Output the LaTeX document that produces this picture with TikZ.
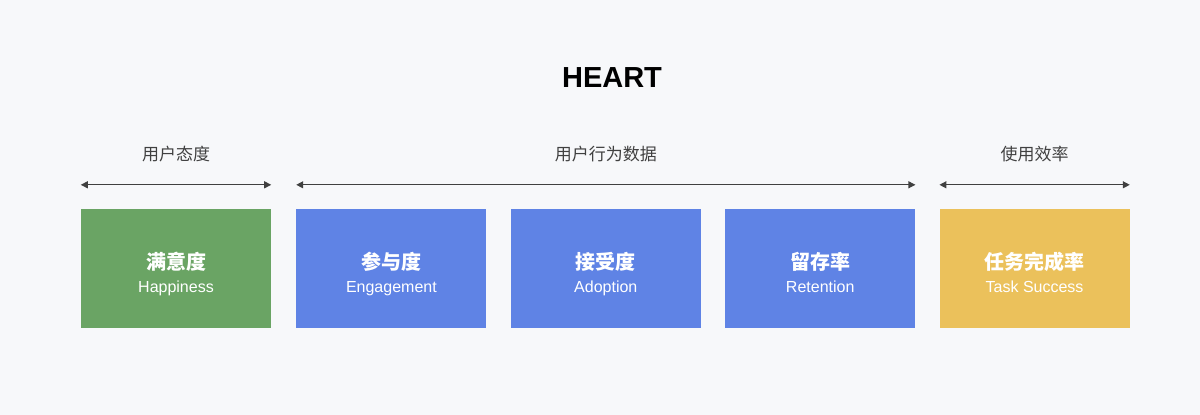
\documentclass[tikz,border=0pt]{standalone}
\usepackage{fontspec}
\setmainfont{Liberation Sans}
\newfontfamily\cjk{Noto Sans CJK SC}
\usetikzlibrary{arrows.meta}
\usetikzlibrary{positioning}
\definecolor{bgc}{HTML}{F7F8FA}
\definecolor{linec}{HTML}{404040}
\definecolor{hapc}{HTML}{6AA464}
\definecolor{bluec}{HTML}{5F83E5}
\definecolor{yelc}{HTML}{EBC15B}
\tikzset{
  metric/.style={minimum width=190pt,minimum height=119pt,inner sep=0pt,
    text=white,align=center},
  group/.style={text=linec,font=\cjk\fontsize{17}{20}\selectfont},
  span/.style={linec,line width=1.2pt,{Triangle[length=7pt,width=7pt]}-{Triangle[length=7pt,width=7pt]}}
}
\newcommand{\mtext}[2]{\rule[-5pt]{0pt}{34pt}{\cjk\bfseries\fontsize{20}{24}\selectfont #1}\\[5pt]{\fontsize{16}{19}\selectfont\rule[-5pt]{0pt}{17pt}#2}}

\begin{document}
\begin{tikzpicture}[x=1pt,y=-1pt]
        \fill[bgc] (0,0) rectangle (1200,415);
        \useasboundingbox (0,0) rectangle (1200,415);
        \node[font=\bfseries\fontsize{29}{34}\selectfont] (title) at (612,78) {HEART};
        % boxes
        \node[metric,fill=hapc] (hap) at (176,268.5) {\mtext{满意度}{Happiness}};
        \node[metric,fill=bluec,right=25pt of hap] (eng) {\mtext{参与度}{Engagement}};
        \node[metric,fill=bluec,right=24pt of eng] (ado) {\mtext{接受度}{Adoption}};
        \node[metric,fill=bluec,right=24pt of ado] (ret) {\mtext{留存率}{Retention}};
        \node[metric,fill=yelc,right=24pt of ret] (task) {\mtext{任务完成率}{Task Success}};
        % spans
        \coordinate (a1) at ([yshift=24pt]hap.north west);
        \coordinate (a2) at ([yshift=24pt]hap.north east);
        \coordinate (b1) at ([yshift=24pt]eng.north west);
        \coordinate (b2) at ([yshift=24pt]ret.north east);
        \coordinate (c1) at ([yshift=24pt]task.north west);
        \coordinate (c2) at ([yshift=24pt]task.north east);
        \draw[span] (a1) -- (a2);
        \draw[span] (b1) -- (b2);
        \draw[span] (c1) -- (c2);
        \node[group] (att) at ([yshift=31pt]a1 -| hap) {用户态度};
        \node[group] (beh) at (att -| ado) {用户行为数据};
        \node[group] (eff) at (att -| task) {使用效率};
\end{tikzpicture}
\end{document}
